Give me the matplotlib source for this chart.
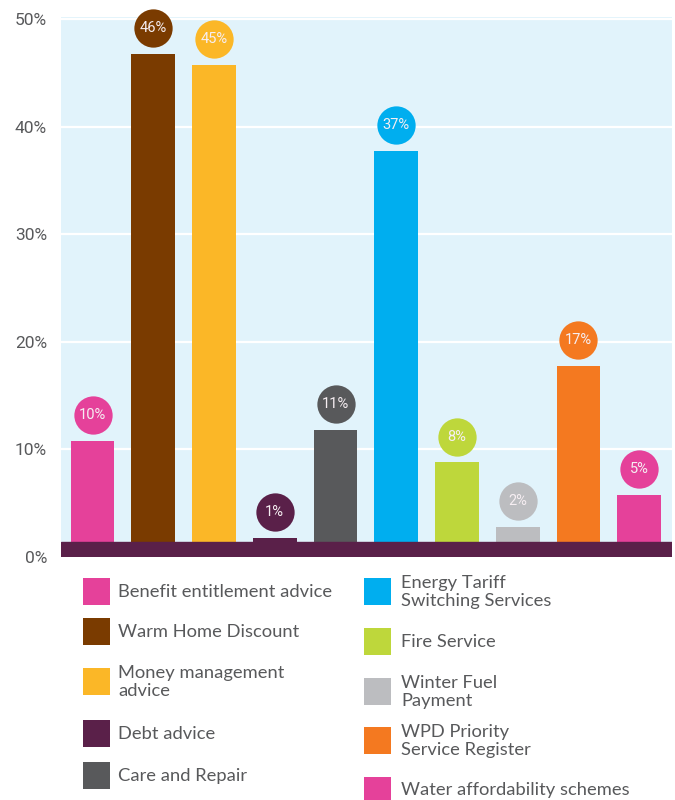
import matplotlib
matplotlib.use("Agg")
import matplotlib.pyplot as plt
from matplotlib.patches import Rectangle

categories = [
    "Benefit entitlement advice",
    "Warm Home Discount",
    "Money management\nadvice",
    "Debt advice",
    "Care and Repair",
    "Energy Tariff\nSwitching Services",
    "Fire Service",
    "Winter Fuel\nPayment",
    "WPD Priority\nService Register",
    "Water affordability schemes",
]
values = [10, 46, 45, 1, 11, 37, 8, 2, 17, 5]
colors = ["#E5419A", "#7A3B00", "#FBB727", "#5A2049", "#58595B",
          "#00AEEF", "#BED73B", "#BCBDC0", "#F47920", "#E5419A"]
yticks = [0, 10, 20, 30, 40, 50]
ytick_labels = ["0%", "10%", "20%", "30%", "40%", "50%"]

BG = "#E1F3FB"
BAND = "#5A2049"
TEXT = "#58595B"
BASE = 0.78      # bars sit slightly above the zero line
BAND_H = 1.4     # height of the dark floor strip

fig = plt.figure(figsize=(6.75, 8), dpi=100)
ax = fig.add_axes([61 / 675, 1 - 556.8 / 800, 611 / 675, 539.8 / 800])
ax.set_facecolor(BG)
ax.set_xlim(-0.52, 9.54)
ax.set_ylim(0, 50.2)

for y in yticks[1:]:
    ax.axhline(y, color="white", lw=1.6, zorder=1)

x = list(range(len(values)))
ax.bar(x, values, bottom=BASE, width=0.72, color=colors, zorder=2)
ax.axhspan(0, BAND_H, color=BAND, zorder=3)

# value bubbles above each bar
for xi, v, c in zip(x, values, colors):
    yc = v + BASE + 2.4
    ax.scatter([xi], [yc], s=760, color=c, zorder=4, linewidths=0,
               clip_on=False)
    ax.text(xi, yc, f"{v}%", ha="center", va="center", color="#F6EEF2",
            fontsize=10.5, family="Roboto", zorder=5, clip_on=False)

ax.set_yticks(yticks)
ax.set_yticklabels(ytick_labels, fontsize=12.5, family="Roboto", color=TEXT)
ax.tick_params(axis="y", length=0, pad=10)
ax.set_xticks([])
for s in ax.spines.values():
    s.set_visible(False)

# legend in two columns, drawn in pixel coordinates
lax = fig.add_axes([0, 0, 1, 1])
lax.set_xlim(0, 675)
lax.set_ylim(800, 0)
lax.axis("off")
lax.patch.set_alpha(0)

rows_left = [591.5, 631.5, 681.5, 733.5, 775.5]
rows_right = [591.5, 641.5, 691.5, 740.5, 790.0]
for i in range(5):
    for col, rows, sx, tx in ((0, rows_left, 83, 118), (1, rows_right, 364, 401)):
        k = col * 5 + i
        yc = rows[i]
        lax.add_patch(Rectangle((sx, yc - 13.5), 27, 27, color=colors[k], lw=0))
        lax.text(tx, yc + 0.5, categories[k], ha="left", va="center",
                 fontsize=13.2, family="Lato", color=TEXT, linespacing=1.12)

fig.savefig("out.png", dpi=100)
